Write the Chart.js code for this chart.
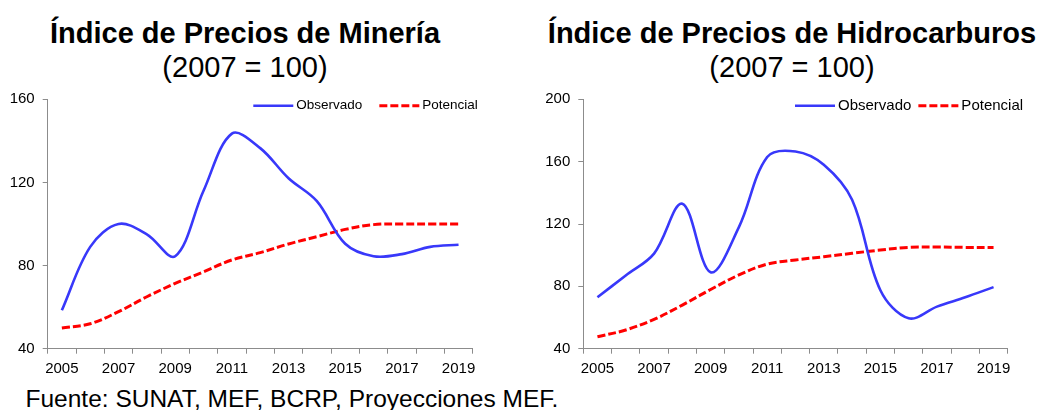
<!DOCTYPE html>
<html lang="es">
<head>
<meta charset="utf-8">
<title>Índices de Precios de Minería e Hidrocarburos</title>
<script src="https://cdn.jsdelivr.net/npm/chart.js@4"></script>
<style>
    html, body {
        margin: 0;
        padding: 0;
        width: 1041px;
        height: 410px;
        overflow: hidden;
        background: #ffffff;
        font-family: "Liberation Sans", Arial, sans-serif;
        color: #000000;
    }
    .grafico {
        position: absolute;
        top: 0;
    }
    .titulo {
        position: absolute;
        text-align: center;
        font-size: 29px;
        line-height: 34px;
        white-space: nowrap;
    }
    .titulo b {
        display: block;
    }
    .fuente {
        position: absolute;
        left: 25.5px;
        top: 385px;
        font-size: 24.5px;
        line-height: 27px;
        white-space: nowrap;
    }
</style>
</head>
<body>
<div class="titulo" style="left: 0; top: 15.7px; width: 490px;">
    <b>Índice de Precios de Minería</b>
    <span>(2007 = 100)</span>
</div>
<div class="titulo" style="left: 542px; top: 15.7px; width: 500px;">
    <b>Índice de Precios de Hidrocarburos</b>
    <span>(2007 = 100)</span>
</div>

<canvas id="graficoMineria" class="grafico" style="left: 0;" width="520" height="380"></canvas>
<canvas id="graficoHidrocarburos" class="grafico" style="left: 520px;" width="521" height="380"></canvas>

<div class="fuente">Fuente: SUNAT, MEF, BCRP, Proyecciones MEF.</div>

<script>
const years = ["2005", "2006", "2007", "2008", "2009", "2010", "2011", "2012", "2013", "2014", "2015", "2016", "2017", "2018", "2019"];

const mineriaObservado = [58.5, 89, 100, 95, 84.5, 116, 143.5, 136.5, 122, 111, 90.5, 84.5, 85.5, 89, 90];
const mineriaPotencial = [50, 52, 57.8, 65, 71.4, 77, 82.7, 86.2, 90.4, 93.9, 97.4, 99.7, 100, 100, 100];
const mineriaTicks = [40, 80, 120, 160];

const hidroObservado = [73, 87, 101, 133, 89, 118, 163, 166.5, 158, 135.5, 77.5, 59.5, 67, 73, 79.5];
const hidroPotencial = [47.7, 52, 58.8, 68, 78, 87.3, 94.3, 96.9, 99, 101.2, 103.3, 105, 105.2, 105, 105];
const hidroTicks = [40, 80, 120, 160, 200];

const FONT = "'Liberation Sans', Arial, sans-serif";
const AXIS_GREY = "#8c8c8c";

Chart.defaults.font.family = FONT;
Chart.defaults.color = "#000000";

// legend drawn by hand so it can sit over the plot like the original
const leyendaPlugin = {
    id: "leyenda",
    afterDraw(chart, args, opts) {
        const ctx = chart.ctx;
        ctx.save();
        ctx.font = opts.fontSize + "px " + FONT;
        ctx.textBaseline = "middle";
        ctx.textAlign = "left";
        let x = opts.x;
        chart.data.datasets.forEach(ds => {
            ctx.beginPath();
            ctx.strokeStyle = ds.borderColor;
            ctx.lineWidth = ds.borderWidth;
            ctx.setLineDash(ds.borderDash || []);
            ctx.moveTo(x, opts.y);
            ctx.lineTo(x + opts.sampleWidth, opts.y);
            ctx.stroke();
            ctx.setLineDash([]);
            x += opts.sampleWidth + opts.textGap;
            ctx.fillStyle = "#000000";
            ctx.fillText(ds.label, x, opts.y);
            x += ctx.measureText(ds.label).width + opts.itemGap;
        });
        ctx.restore();
    }
};

function crearGrafico(canvasId, observado, potencial, ticks, cfg) {
    return new Chart(document.getElementById(canvasId), {
        type: "line",
        data: {
            labels: years,
            datasets: [{
                label: "Observado",
                data: observado,
                borderColor: "#3838fa",
                borderWidth: 2.6,
                pointRadius: 0,
                tension: 0.35,
                fill: false
            }, {
                label: "Potencial",
                data: potencial,
                borderColor: "#ff0000",
                borderWidth: 3,
                borderDash: [8, 3],
                pointRadius: 0,
                tension: 0.35,
                fill: false
            }]
        },
        options: {
            responsive: false,
            animation: false,
            layout: {
                padding: { left: 0, right: cfg.padRight, top: 99.3, bottom: 0 }
            },
            plugins: {
                legend: { display: false },
                tooltip: { enabled: false },
                leyenda: cfg.leyenda
            },
            scales: {
                x: {
                    type: "category",
                    offset: true,
                    grid: {
                        offset: true,
                        drawOnChartArea: false,
                        drawTicks: true,
                        tickLength: 5,
                        color: AXIS_GREY
                    },
                    border: { color: AXIS_GREY, width: 1 },
                    ticks: {
                        autoSkip: false,
                        maxRotation: 0,
                        padding: 6,
                        font: { size: 15 },
                        callback: function (value, index) {
                            return index % 2 === 0 ? years[index] : "";
                        }
                    },
                    afterFit: function (scale) {
                        scale.height = 31.3;
                    }
                },
                y: {
                    min: ticks[0],
                    max: ticks[ticks.length - 1],
                    grid: {
                        drawOnChartArea: false,
                        drawTicks: true,
                        tickLength: 5,
                        color: AXIS_GREY
                    },
                    border: { color: AXIS_GREY, width: 1 },
                    ticks: {
                        stepSize: ticks[1] - ticks[0],
                        padding: 8,
                        font: { size: 15 }
                    },
                    afterFit: function (scale) {
                        scale.width = cfg.axisWidth;
                    }
                }
            }
        },
        plugins: [leyendaPlugin]
    });
}

crearGrafico("graficoMineria", mineriaObservado, mineriaPotencial, mineriaTicks, {
    axisWidth: 47.7,
    padRight: 47.3,
    leyenda: { x: 253.3, y: 105.7, fontSize: 13.5, sampleWidth: 40, textGap: 3, itemGap: 17 }
});

crearGrafico("graficoHidrocarburos", hidroObservado, hidroPotencial, hidroTicks, {
    axisWidth: 63.3,
    padRight: 33.3,
    leyenda: { x: 275, y: 105.7, fontSize: 15, sampleWidth: 40, textGap: 3, itemGap: 7 }
});
</script>
</body>
</html>
